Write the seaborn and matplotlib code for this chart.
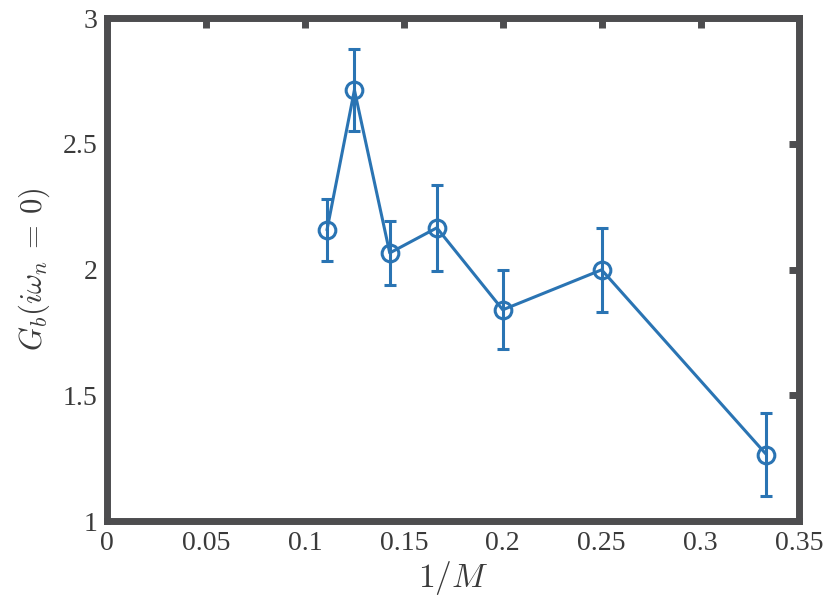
import matplotlib
matplotlib.use("Agg")
import matplotlib.pyplot as plt
import seaborn as sb
import numpy as np
import pandas as pd

# 1/M and G_b(i w_n = 0) with error bars
invM = [1/9, 1/8, 1/7, 1/6, 1/5, 1/4, 1/3]
Gb = [2.157, 2.714, 2.066, 2.166, 1.840, 1.999, 1.264]
err = [0.123, 0.163, 0.128, 0.171, 0.157, 0.166, 0.165]

xticks = [0, 0.05, 0.1, 0.15, 0.2, 0.25, 0.3, 0.35]
yticks = [1, 1.5, 2, 2.5, 3]

sb.set_style("white")
plt.rcParams['font.family'] = ['Liberation Serif', 'DejaVu Serif']
plt.rcParams['mathtext.fontset'] = 'cm'

col = '#2A74B3'
axcol = '#4D4D4F'
txtcol = '#3A3A3A'

df = pd.DataFrame({'x': invM, 'y': Gb})
fig = plt.figure(figsize=(8.31, 6.04), dpi=100)
ax = fig.add_axes([0.129, 0.1374, 0.833, 0.8326])

ax.errorbar(invM, Gb, yerr=err, fmt='none', ecolor=col, elinewidth=2.2,
            capsize=4, capthick=2.2, zorder=2)
sb.lineplot(data=df, x='x', y='y', ax=ax, color=col, linewidth=2.2,
            marker='o', markersize=12, markerfacecolor='none',
            markeredgecolor=col, markeredgewidth=2.2, zorder=3)

ax.set_xlim(0, 0.35)
ax.set_ylim(1, 3)
ax.set_xticks(xticks)
ax.set_xticklabels([f'{t:g}' for t in xticks])
ax.set_yticks(yticks)
ax.set_yticklabels([f'{t:g}' for t in yticks])

for s in ax.spines.values():
    s.set_visible(True)
    s.set_linewidth(5)
    s.set_color(axcol)
ax.tick_params(direction='in', length=7, width=5, color=axcol,
               labelcolor=txtcol, labelsize=20, top=True, right=True, pad=7)

ax.set_xlabel(r'$1/M$', fontsize=24, color=txtcol, labelpad=2)
ax.set_ylabel(r'$G_b(i\omega_n\:=\:0)$', fontsize=22, color=txtcol, labelpad=8)

plt.savefig('out.png', dpi=100)
plt.close()
